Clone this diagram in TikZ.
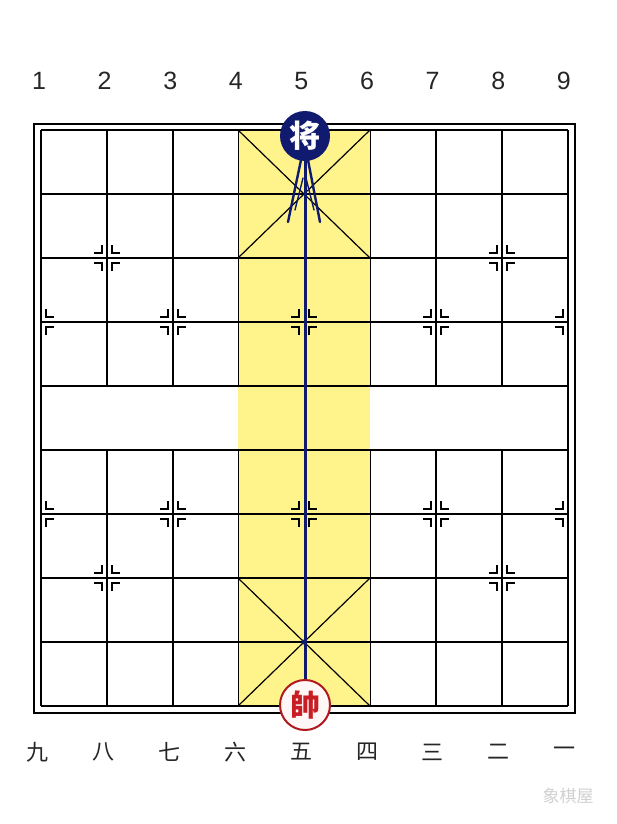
\documentclass[tikz,border=0pt]{standalone}
\usepackage{fontspec}
\setmainfont{Liberation Sans}
\newfontfamily\cjk{Noto Sans CJK SC}
\definecolor{navy}{RGB}{16,26,110}
\definecolor{palaceyellow}{RGB}{255,244,140}
\definecolor{pcred}{RGB}{200,30,35}
\definecolor{pcring}{RGB}{175,25,30}
\definecolor{pcfill}{RGB}{255,246,246}
\tikzset{
  gridline/.style={black, line width=1.6pt},
  frameline/.style={black, line width=2pt},
  mk/.style={black, line width=1.4pt},
  flyline/.style={navy, line width=3pt},
  arrowleg/.style={navy, line width=2.4pt, line cap=round},
  arrowlegthin/.style={navy, line width=1.4pt, line cap=round},
  jiangpc/.style={circle, fill=navy, minimum size=50pt, inner sep=0pt, text=white, font=\cjk\bfseries\fontsize{31}{31}\selectfont},
  shuaipc/.style={circle, fill=pcfill, draw=pcring, line width=2pt, minimum size=50pt, inner sep=0pt, text=pcred, font=\cjk\bfseries\fontsize{30}{30}\selectfont},
  toplabel/.style={font=\fontsize{25}{25}\selectfont, text=black!85},
  botlabel/.style={font=\cjk\fontsize{22}{22}\selectfont, text=black!85},
  watermark/.style={font=\cjk\fontsize{17}{17}\selectfont, text=black!18}
}
\newcommand\boardmark[3]{%
  \foreach \sx in {#3}{\foreach \sy in {-1,1}{%
    \draw[mk, shift={(#1,#2)}] (\sx*5,\sy*13) -- (\sx*5,\sy*5) -- (\sx*13,\sy*5);}}}
\begin{document}
\begin{tikzpicture}[x=1pt,y=-1pt]
\useasboundingbox (0,0) rectangle (616,824);
\fill[white] (0,0) rectangle (616,824);
% palace and central columns
\fill[palaceyellow] (238,130) rectangle (370,706);
% horizontal lines
\foreach \j in {0,...,9}{\draw[gridline] (41,130+64*\j) -- (568,130+64*\j);}
% vertical lines
\foreach \i in {0,8}{\draw[gridline] (41+65.875*\i,130) -- (41+65.875*\i,706);}
\foreach \i in {1,2,3,5,6,7}{
  \draw[gridline] (41+65.875*\i,130) -- (41+65.875*\i,386);
  \draw[gridline] (41+65.875*\i,450) -- (41+65.875*\i,706);}
% palace diagonals
\draw[gridline, line width=1.2pt] (238,130) -- (370,258) (370,130) -- (238,258);
\draw[gridline, line width=1.2pt] (238,578) -- (370,706) (370,578) -- (238,706);
% outer frame
\draw[frameline] (34,124) rectangle (575,713);
% position marks
\foreach \x in {107,502}{\boardmark{\x}{258}{-1,1}\boardmark{\x}{578}{-1,1}}
\foreach \x in {173,304,436}{\boardmark{\x}{322}{-1,1}\boardmark{\x}{514}{-1,1}}
\boardmark{41}{322}{1}\boardmark{41}{514}{1}
\boardmark{568}{322}{-1}\boardmark{568}{514}{-1}
% pieces
\node[jiangpc] (jiang) at (305,136) {将};
\node[shuaipc] (shuai) at (305,705) {帥};
% flying line with arrow head
\draw[flyline] (shuai.north) -- (jiang.south);
\coordinate (apexl) at (301,160);
\coordinate (apexr) at (308,160);
\coordinate (legl) at (288,222);
\coordinate (legr) at (320,222);
\coordinate (inl1) at (303,178);
\coordinate (inl2) at (295,210);
\coordinate (inr1) at (306,178);
\coordinate (inr2) at (314,210);
\draw[arrowleg] (apexl) -- (legl);
\draw[arrowleg] (apexr) -- (legr);
\draw[arrowlegthin] (inl1) -- (inl2);
\draw[arrowlegthin] (inr1) -- (inr2);
\fill[navy] (304,642) circle (2.5pt);
% column labels
\foreach \n [count=\k from 0] in {1,...,9}{\node[toplabel] (t\n) at (39+65.6*\k,81) {\n};}
\foreach \c [count=\k from 0] in {九,八,七,六,五,四,三,二,一}{\node[botlabel] (b\k) at (38+65.8*\k,752) {\c};}
% watermark
\node[watermark] (wm) at (568,796) {象棋屋};
\end{tikzpicture}
\end{document}
